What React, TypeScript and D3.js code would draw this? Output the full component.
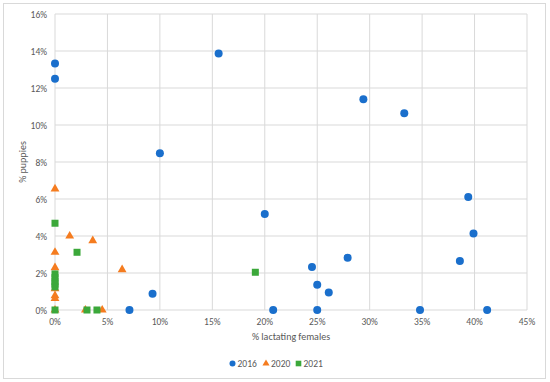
import * as d3 from "d3";
import { useEffect, useRef } from "react";

// % lactating females (x) and % puppies (y)
const x2016 = [0, 0, 15.6, 29.4, 33.3, 10.0, 20.0, 39.4, 39.9, 24.5, 27.9, 38.6, 25.0, 26.1, 20.8, 25.0, 34.8, 41.2, 9.3, 7.1];
const y2016 = [13.33, 12.5, 13.87, 11.39, 10.63, 8.47, 5.19, 6.11, 4.14, 2.32, 2.83, 2.65, 1.37, 0.94, 0, 0, 0, 0, 0.88, 0];

const x2020 = [0, 1.4, 3.6, 0, 0, 6.4, 0, 0, 0, 0, 2.9, 4.5];
const y2020 = [6.55, 4.0, 3.75, 3.12, 2.29, 2.18, 1.15, 0.78, 0.62, 0, 0, 0];

const x2021 = [19.1, 0, 2.1, 0, 0, 0, 0, 0, 0, 3.05, 4.0];
const y2021 = [2.04, 4.69, 3.12, 1.95, 1.75, 1.55, 1.4, 1.25, 0, 0, 0];

const seriesNames = ["2016", "2020", "2021"];
const seriesColors = ["#1a6fcc", "#f57c1f", "#3ba83a"];
const xTicks = [0, 5, 10, 15, 20, 25, 30, 35, 40, 45];
const yTicks = [0, 2, 4, 6, 8, 10, 12, 14, 16];

const W = 550;
const H = 382;
const font = "Carlito, 'Liberation Sans', Arial, sans-serif";

function ScatterChart() {
  const svgRef = useRef<SVGSVGElement>(null);

  useEffect(() => {
    const svg = d3.select(svgRef.current);
    svg.selectAll("*").remove();

    const xScale = d3.scaleLinear().domain([0, 45]).range([55, 527]);
    const yScale = d3.scaleLinear().domain([0, 16]).range([310, 14]);

    // outer frame
    svg
      .append("rect")
      .attr("x", 3.5)
      .attr("y", 3.5)
      .attr("width", 542)
      .attr("height", 375)
      .attr("fill", "white")
      .attr("stroke", "#d9d9d9");

    // grid
    const grid = svg.append("g");
    grid
      .selectAll(".vg")
      .data(xTicks)
      .join("line")
      .attr("x1", (d) => xScale(d))
      .attr("x2", (d) => xScale(d))
      .attr("y1", yScale(16))
      .attr("y2", yScale(0))
      .attr("stroke", "#d9d9d9");
    grid
      .selectAll(".hg")
      .data(yTicks)
      .join("line")
      .attr("x1", xScale(0))
      .attr("x2", xScale(45))
      .attr("y1", (d) => yScale(d))
      .attr("y2", (d) => yScale(d))
      .attr("stroke", "#d9d9d9");

    // tick labels
    svg
      .append("g")
      .selectAll("text")
      .data(xTicks)
      .join("text")
      .attr("x", (d) => xScale(d))
      .attr("y", 325)
      .attr("text-anchor", "middle")
      .attr("font-size", 9.5)
      .attr("font-family", font)
      .attr("fill", "#595959")
      .text((d) => d + "%");
    svg
      .append("g")
      .selectAll("text")
      .data(yTicks)
      .join("text")
      .attr("x", 47)
      .attr("y", (d) => yScale(d) + 3.5)
      .attr("text-anchor", "end")
      .attr("font-size", 9.5)
      .attr("font-family", font)
      .attr("fill", "#595959")
      .text((d) => d + "%");

    // axis titles
    svg
      .append("text")
      .attr("x", 291)
      .attr("y", 340)
      .attr("text-anchor", "middle")
      .attr("font-size", 10)
      .attr("font-family", font)
      .attr("fill", "#595959")
      .text("% lactating females");
    svg
      .append("text")
      .attr("transform", `translate(26,162) rotate(-90)`)
      .attr("text-anchor", "middle")
      .attr("font-size", 10)
      .attr("font-family", font)
      .attr("fill", "#595959")
      .text("% puppies");

    const marks = svg.append("g");
    const toPts = (xs: number[], ys: number[]) => xs.map((x, i) => ({ x, y: ys[i] }));

    marks
      .selectAll(".s2016")
      .data(toPts(x2016, y2016))
      .join("circle")
      .attr("cx", (d) => xScale(d.x))
      .attr("cy", (d) => yScale(d.y))
      .attr("r", 4)
      .attr("fill", seriesColors[0]);

    const tri = d3.symbol().type(d3.symbolTriangle).size(34);
    marks
      .selectAll(".s2020")
      .data(toPts(x2020, y2020))
      .join("path")
      .attr("d", tri)
      .attr("transform", (d) => `translate(${xScale(d.x)},${yScale(d.y)})`)
      .attr("fill", seriesColors[1]);

    marks
      .selectAll(".s2021")
      .data(toPts(x2021, y2021))
      .join("rect")
      .attr("x", (d) => xScale(d.x) - 3.5)
      .attr("y", (d) => yScale(d.y) - 3.5)
      .attr("width", 7)
      .attr("height", 7)
      .attr("fill", seriesColors[2]);

    // legend
    const legX = [232.5, 266, 298.5];
    const legY = 363.5;
    const leg = svg.append("g");
    seriesNames.forEach((name, i) => {
      if (i === 0) {
        leg.append("circle").attr("cx", legX[i]).attr("cy", legY).attr("r", 3).attr("fill", seriesColors[i]);
      } else if (i === 1) {
        leg
          .append("path")
          .attr("d", d3.symbol().type(d3.symbolTriangle).size(22)())
          .attr("transform", `translate(${legX[i]},${legY})`)
          .attr("fill", seriesColors[i]);
      } else {
        leg
          .append("rect")
          .attr("x", legX[i] - 2.8)
          .attr("y", legY - 2.8)
          .attr("width", 5.6)
          .attr("height", 5.6)
          .attr("fill", seriesColors[i]);
      }
      leg
        .append("text")
        .attr("x", legX[i] + 5)
        .attr("y", legY + 3.5)
        .attr("font-size", 9.5)
        .attr("font-family", font)
        .attr("fill", "#595959")
        .text(name);
    });
  }, []);

  return <svg ref={svgRef} width={W} height={H} style={{ display: "block" }} />;
}

export default function App() {
  return (
    <div style={{ position: "absolute", left: 0, top: 0, width: W, height: H, background: "white" }}>
      <ScatterChart />
    </div>
  );
}
